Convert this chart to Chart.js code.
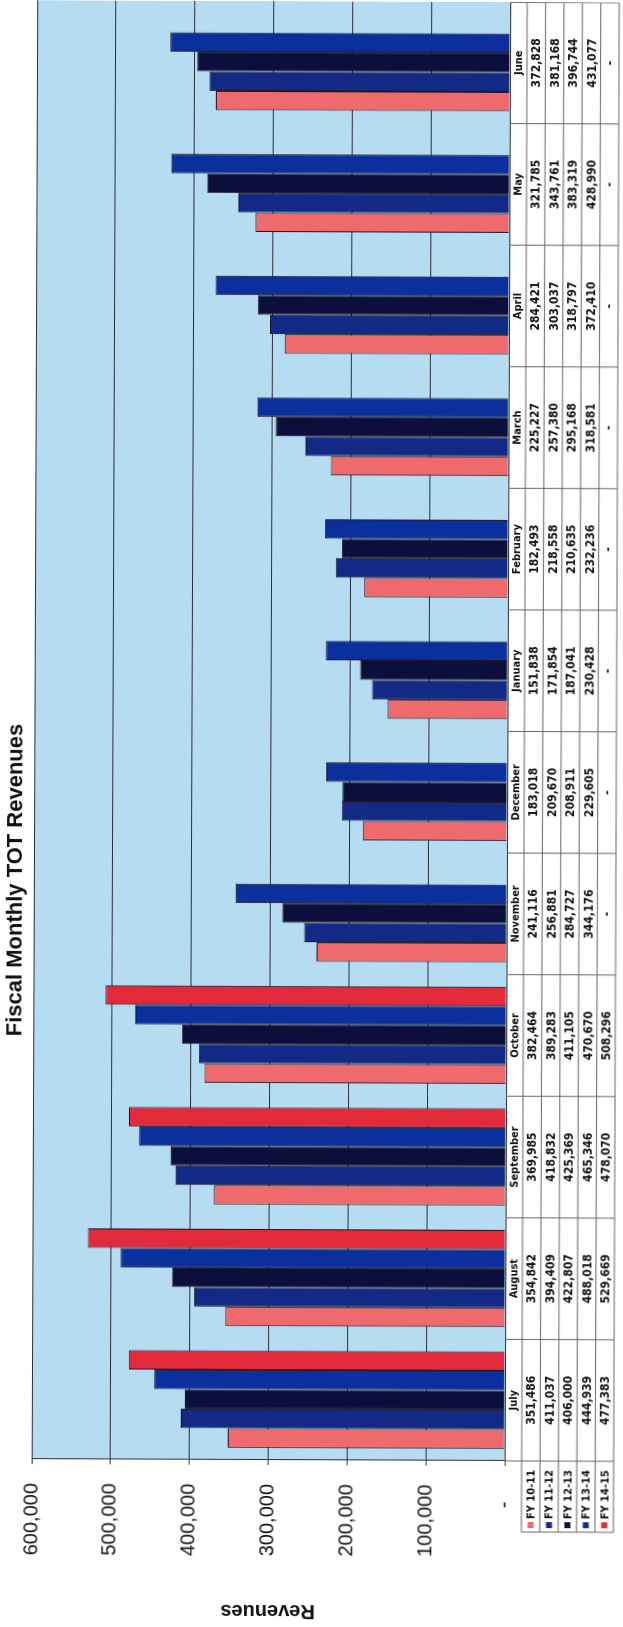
<!DOCTYPE html>
<html>
<head>
<meta charset="utf-8">
<script src="https://cdn.jsdelivr.net/npm/chart.js@4.4.1/dist/chart.umd.min.js"></script>
<style>
  html, body { margin: 0; padding: 0; background: #fff; overflow: hidden; }
  body { width: 623px; height: 1627px; position: relative; }
  /* the chart is laid out landscape, then turned a quarter turn like the scan */
  #wrap { position: absolute; left: 0; top: 0; width: 1627px; height: 623px;
          transform-origin: 0 0; transform: translate(0, 1627px) rotate(-89.78deg); }
</style>
</head>
<body>
<div id="wrap"><canvas id="chart" width="1627" height="623"></canvas></div>
<script>
const months = ["July", "August", "September", "October", "November", "December",
                "January", "February", "March", "April", "May", "June"];
const fyLabels = ["FY 10-11", "FY 11-12", "FY 12-13", "FY 13-14", "FY 14-15"];
const fy1011 = [351486, 354842, 369985, 382464, 241116, 183018, 151838, 182493, 225227, 284421, 321785, 372828];
const fy1112 = [411037, 394409, 418832, 389283, 256881, 209670, 171854, 218558, 257380, 303037, 343761, 381168];
const fy1213 = [406000, 422807, 425369, 411105, 284727, 208911, 187041, 210635, 295168, 318797, 383319, 396744];
const fy1314 = [444939, 488018, 465346, 470670, 344176, 229605, 230428, 232236, 318581, 372410, 428990, 431077];
const fy1415 = [477383, 529669, 478070, 508296, null, null, null, null, null, null, null, null];
const yTicks = [0, 100000, 200000, 300000, 400000, 500000, 600000];

const series = [fy1011, fy1112, fy1213, fy1314, fy1415];
const barColors = ["#ef6a6c", "#122a86", "#0c0f3c", "#0b2f9c", "#e32a3a"];
const sans = "'Liberation Sans', Arial, sans-serif";
const narrow = "'Liberation Sans Narrow', 'DejaVu Sans Condensed', sans-serif";

const fmt = (v) => (v === null ? "-" : v.toLocaleString("en-US"));

// light blue plot area behind the grid
const plotBg = {
  id: "plotBg",
  beforeDraw(chart) {
    const { ctx, chartArea: a } = chart;
    ctx.save();
    ctx.fillStyle = "#b6dcf2";
    ctx.fillRect(a.left, a.top, a.right - a.left, a.bottom - a.top);
    ctx.restore();
  },
};

const chartTitle = {
  id: "chartTitle",
  afterDraw(chart) {
    const ctx = chart.ctx;
    ctx.save();
    ctx.font = "bold 22px " + sans;
    ctx.fillStyle = "#111";
    ctx.textAlign = "center";
    ctx.textBaseline = "alphabetic";
    ctx.fillText("Fiscal Monthly TOT Revenues", 747, 19);
    ctx.restore();
  },
};

// excel style data table under the category axis
const dataTable = {
  id: "dataTable",
  afterDraw(chart) {
    const ctx = chart.ctx;
    const x = chart.scales.x;
    const top = chart.chartArea.bottom;
    const headH = 17;
    const rowH = 18.4;
    const bottom = top + headH + rowH * fyLabels.length;
    const colW = x.width / months.length;
    const legLeft = 97;

    ctx.save();
    ctx.fillStyle = "#fff";
    ctx.fillRect(x.left, top + 1, x.right - x.left, bottom - top);
    ctx.fillRect(legLeft, top + headH, x.left - legLeft, bottom - top - headH);

    ctx.strokeStyle = "#666";
    ctx.lineWidth = 1;
    ctx.beginPath();
    months.forEach((m, i) => {
      const cx = x.getPixelForValue(i) - colW / 2;
      ctx.moveTo(cx, top);
      ctx.lineTo(cx, bottom);
    });
    ctx.moveTo(x.right - 0.5, top);
    ctx.lineTo(x.right - 0.5, bottom);
    for (let r = 0; r <= fyLabels.length; r++) {
      const y = top + headH + r * rowH;
      ctx.moveTo(legLeft, y);
      ctx.lineTo(x.right, y);
    }
    ctx.moveTo(legLeft, top + headH);
    ctx.lineTo(legLeft, bottom);
    ctx.stroke();

    ctx.fillStyle = "#111";
    ctx.textAlign = "center";
    ctx.textBaseline = "middle";
    months.forEach((m, i) => {
      const cx = x.getPixelForValue(i);
      ctx.font = "bold 11px " + narrow;
      ctx.fillText(m, cx, top + headH / 2 + 1);
      ctx.font = "bold 12px " + narrow;
      series.forEach((s, r) => {
        ctx.fillText(fmt(s[i]), cx, top + headH + rowH * (r + 0.5) + 1);
      });
    });

    ctx.textAlign = "left";
    ctx.font = "bold 11px " + narrow;
    fyLabels.forEach((lab, r) => {
      const cy = top + headH + rowH * (r + 0.5);
      ctx.fillStyle = barColors[r];
      ctx.fillRect(legLeft + 4, cy - 3, 6, 6);
      ctx.fillStyle = "#111";
      ctx.fillText(lab, legLeft + 13, cy + 1);
    });
    ctx.restore();
  },
};

new Chart(document.getElementById("chart"), {
  type: "bar",
  data: {
    labels: months,
    datasets: fyLabels.map((lab, i) => ({
      label: lab,
      data: series[i],
      backgroundColor: barColors[i],
      borderColor: "#1a1422",
      borderWidth: 1,
      categoryPercentage: 0.8,
      barPercentage: 1.0,
    })),
  },
  options: {
    responsive: false,
    animation: false,
    devicePixelRatio: 1,
    layout: { padding: { top: 22, bottom: 119, left: 0, right: 0 } },
    plugins: {
      legend: { display: false },
      tooltip: { enabled: false },
    },
    scales: {
      x: {
        display: false,
        afterFit(scale) { scale.height = 0; },
      },
      y: {
        min: 0,
        max: 600000,
        afterFit(scale) { scale.width = 168; },
        afterBuildTicks(scale) { scale.ticks = yTicks.map((v) => ({ value: v })); },
        ticks: {
          font: { family: sans, size: 20 },
          color: "#111",
          padding: 19,
          callback: (v) => (v === 0 ? "-   " : v.toLocaleString("en-US")),
        },
        grid: { color: "#2e2e3a", lineWidth: 1, tickLength: 5 },
        border: { color: "#2e2e3a", width: 1 },
        title: {
          display: true,
          text: "Revenues",
          color: "#111",
          font: { family: sans, size: 20, weight: "bold" },
          padding: { top: 5, bottom: 0 },
        },
      },
    },
  },
  plugins: [plotBg, chartTitle, dataTable],
});
</script>
</body>
</html>
